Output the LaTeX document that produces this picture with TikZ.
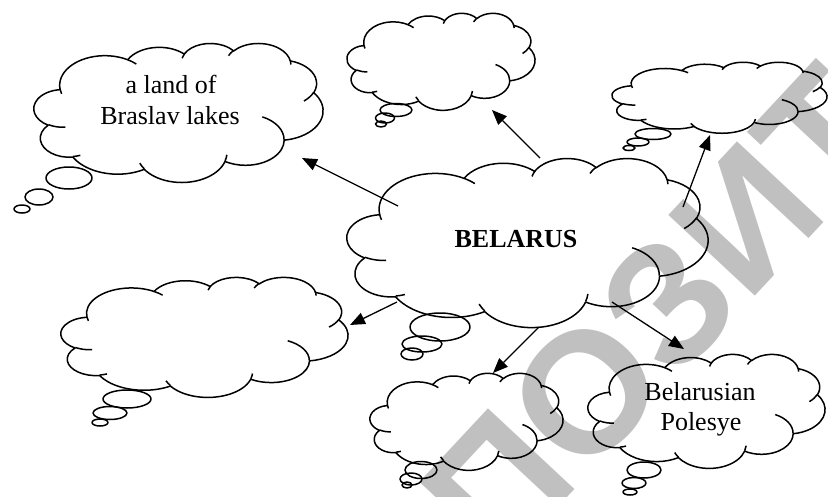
\documentclass[tikz,border=0pt]{standalone}
\usepackage{fontspec}
\setmainfont{Liberation Serif}
\newfontfamily\wmfont{Liberation Sans}
\usetikzlibrary{arrows.meta}
\definecolor{wmgray}{HTML}{C0C0C0}

% elliptical arc given DrawingML-style visual angles (degrees)
\newcommand\carc[4]{%
  \pgfextra{%
    \pgfmathsetmacro\cLa{atan2((#1)*sin(#3),(#2)*cos(#3))}%
    \pgfmathsetmacro\cLb{atan2((#1)*sin((#3)+(#4)),(#2)*cos((#3)+(#4)))}%
    \pgfmathsetmacro\cLd{mod(\cLb-\cLa+720,360)}%
    \global\let\gcLa\cLa\global\let\gcLd\cLd}%
  arc[x radius=#1, y radius=#2, start angle=\gcLa, delta angle=\gcLd]}

\newcommand\drawcloud[4]{%
  \begin{scope}[shift={(#1,#2)}]
    \pgfmathsetmacro\cXs{#3/432}\pgfmathsetmacro\cYs{#4/432}
    \begin{scope}[x=\cXs pt, y=-\cYs pt]
      \draw[cloudline] (39.00,143.70)
        \carc{67.53}{91.90}{-190.4875}{123.7805}
        \carc{53.33}{72.67}{-144.1024}{89.9452}
        \carc{43.65}{59.45}{-145.8079}{99.7230}
        \carc{48.57}{65.95}{-130.9861}{117.2417}
        \carc{53.33}{72.73}{-78.7089}{109.0269}
        \carc{67.75}{92.20}{-46.2673}{130.2690}
        \carc{57.85}{78.67}{0.6250}{114.0333}
        \carc{67.52}{92.15}{22.4516}{115.1726}
        \carc{77.20}{105.43}{66.2426}{75.7110}
        \carc{43.60}{59.18}{-274.9421}{146.7356}
        \carc{43.45}{59.45}{-246.8285}{152.5189}
        -- cycle;
      \draw[cloudline]
        (46.93,261.77) \carc{43.45}{59.45}{86.7420}{26.4295}
        (69.28,348.99) \carc{43.60}{59.18}{73.6105}{11.4475}
        (164.78,390.90) \carc{67.52}{92.15}{137.6242}{14.0811}
        (288.27,347.51) \carc{67.52}{92.15}{6.4533}{15.9984}
        (341.29,229.54) \carc{57.85}{78.67}{-70.2924}{70.9174}
        (417.98,153.54) \carc{53.33}{72.73}{30.3180}{27.7515}
        (383.24,54.26) \carc{48.57}{65.95}{-13.7443}{14.8589}
        (290.78,39.52) \carc{48.57}{65.95}{-149.1815}{18.1954}
        (221.41,47.20) \carc{43.65}{59.45}{-163.4943}{17.6864}
        (140.00,51.92) \carc{67.53}{91.90}{-66.7070}{12.3194}
        (41.27,157.89) \carc{67.53}{91.90}{157.6544}{11.8582};
    \end{scope}
  \end{scope}}

\newcommand\bubbles[9]{%
  \draw[cloudline] (#1,#2) ellipse [x radius=#3, y radius=#4];
  \draw[cloudline] (#5,#6) ellipse [x radius=#7, y radius=#8];
  \bubblesmall#9}
\def\bubblesmall#1,#2,#3,#4;{\draw[cloudline] (#1,#2) ellipse [x radius=#3, y radius=#4];}

\begin{document}
\begin{tikzpicture}[x=1pt, y=-1pt,
  cloudline/.style={draw=black, line width=1.5pt, line join=round},
  link/.style={draw=black, line width=1.3pt, -{Triangle[length=15pt, width=12pt]}},
  lbl/.style={inner sep=0pt, anchor=base, font=\fontsize{26}{30}\selectfont},
  wm/.style={inner sep=0pt, text=wmgray, font=\wmfont\bfseries\fontsize{172}{172}\selectfont}]
\useasboundingbox (0,0) rectangle (828,496);

% watermark
\begin{scope}
  \clip (0,0) rectangle (828,496);
  \node[wm, rotate=47] (wm) at (658,314) {ПОЗИТ};
\end{scope}

% clouds
\drawcloud{34}{43}{289}{139}
\drawcloud{347}{13}{188}{97}
\drawcloud{612}{62}{215}{71}
\drawcloud{347}{158}{361}{169}
\drawcloud{61}{277}{287}{120}
\drawcloud{370}{373}{193}{97}
\drawcloud{588}{354}{237}{114}

% thought bubbles
\bubbles{69}{178}{23}{11}{39}{197}{14}{8}{22,209,8,4;}
\bubbles{396}{110}{16}{6.5}{385}{118}{9.5}{5}{381,124,5.5,3;}
\bubbles{653}{134}{18}{5.5}{638}{142}{11}{4}{629,148,6,2.5;}
\bubbles{440}{327}{30}{14}{422}{344}{20}{8}{412,354,11,6;}
\bubbles{127}{399}{24}{9}{110}{413}{17}{6.5}{100,422.5,8,3.5;}
\bubbles{421}{470}{16}{8.5}{411}{479}{11}{6}{407,485,5,3;}
\bubbles{644}{470}{17}{8}{634}{483}{12}{5.5}{630,492,7,3;}

% texts
\node[lbl] (t1a) at (171,93) {a land of};
\node[lbl] (t1b) at (170,124) {Braslav lakes};
\node[lbl, font=\fontsize{26}{30}\selectfont\bfseries] (tc) at (516,247) {BELARUS};
\node[lbl] (t6a) at (700,400) {Belarusian};
\node[lbl] (t6b) at (701,430) {Polesye};

% connectors
\coordinate (s1) at (398,206); \coordinate (e1) at (302,158);
\coordinate (s2) at (540,158); \coordinate (e2) at (492,110);
\coordinate (s3) at (683,207); \coordinate (e3) at (710,135);
\coordinate (s4) at (397,302); \coordinate (e4) at (350,325);
\coordinate (s5) at (539,327); \coordinate (e5) at (493,373);
\coordinate (s6) at (612,302); \coordinate (e6) at (684,349);
\foreach \i in {1,...,6} \draw[link] (s\i) -- (e\i);
\end{tikzpicture}
\end{document}
